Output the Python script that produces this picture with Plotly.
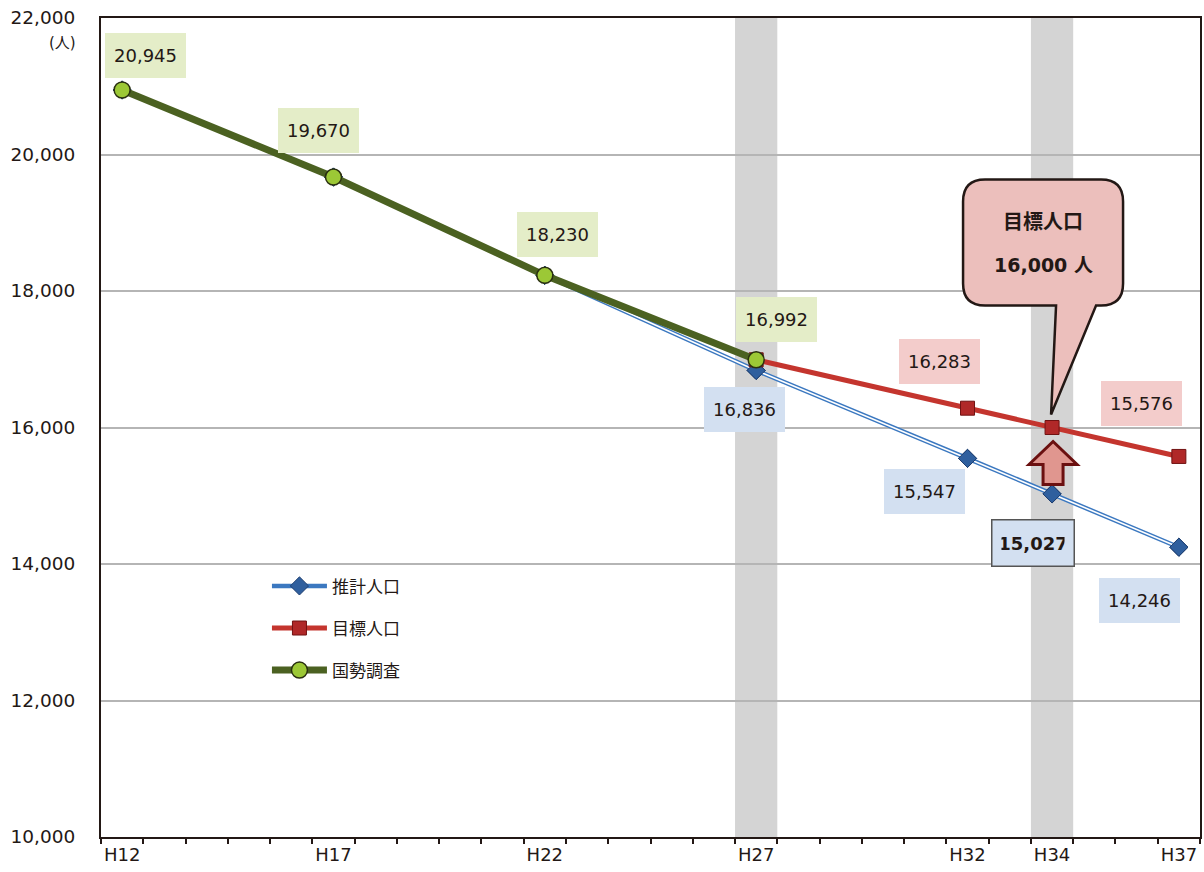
import plotly.graph_objects as go

# ---- data ----
years_est = [12, 17, 22, 27, 32, 34, 37]
pop_est = [20945, 19670, 18230, 16836, 15547, 15027, 14246]
years_goal = [27, 32, 34, 37]
pop_goal = [16992, 16283, 16000, 15576]
years_census = [12, 17, 22, 27]
pop_census = [20945, 19670, 18230, 16992]
tick_years = [12, 17, 22, 27, 32, 34, 37]
tick_labels = ["H12", "H17", "H22", "H27", "H32", "H34", "H37"]
names = ["推計人口", "目標人口", "国勢調査"]

FONT = "DejaVu Sans, Noto Sans CJK JP, sans-serif"
TXT = "#231815"

fig = go.Figure()

# estimate (double line)
fig.add_trace(go.Scatter(x=years_est, y=pop_est, mode="lines+markers", name=names[0],
                         line=dict(color="#3b78c0", width=4.5),
                         marker=dict(symbol="diamond", size=14, color="#2f5f9e",
                                     line=dict(color="#1f3f70", width=1)),
                         legendgroup="a"))
fig.add_trace(go.Scatter(x=years_est, y=pop_est, mode="lines", showlegend=False,
                         line=dict(color="white", width=1.6), hoverinfo="skip"))
fig.add_trace(go.Scatter(x=years_est, y=pop_est, mode="markers", showlegend=False,
                         marker=dict(symbol="diamond", size=14, color="#2f5f9e",
                                     line=dict(color="#1f3f70", width=1))))
# goal
fig.add_trace(go.Scatter(x=years_goal, y=pop_goal, mode="lines+markers", name=names[1],
                         line=dict(color="#c4352e", width=5),
                         marker=dict(symbol="square", size=14, color="#b02828",
                                     line=dict(color="#701212", width=1)),
                         legendgroup="b"))
# census
fig.add_trace(go.Scatter(x=years_census, y=pop_census, mode="lines+markers", name=names[2],
                         line=dict(color="#4b6121", width=7),
                         marker=dict(symbol="circle", size=16, color="#9cc836",
                                     line=dict(color="#2a3010", width=1.5)),
                         legendgroup="c"))

shapes = []
for cx in (27, 34):
    shapes.append(dict(type="rect", xref="x", yref="paper", x0=cx - 0.5, x1=cx + 0.5,
                       y0=0, y1=1, fillcolor="#d4d4d4", line=dict(width=0), layer="between"))

# callout balloon anchored to the goal point at H34
r = 22
L, R, T, B = -89, 71, 248, 122
path = (f"M {L+r},{T} L {R-r},{T} Q {R},{T} {R},{T-r} L {R},{B+r} Q {R},{B} {R-r},{B} "
        f"L 44,{B} L -1,13 L 4,{B} L {L+r},{B} Q {L},{B} {L},{B+r} L {L},{T-r} Q {L},{T} {L+r},{T} Z")
shapes.append(dict(type="path", xref="x", yref="y", xsizemode="pixel", ysizemode="pixel",
                   xanchor=years_goal[2], yanchor=pop_goal[2], path=path,
                   fillcolor="#ecbfbc", line=dict(color=TXT, width=2.5), layer="above"))
# up arrow
arrow = "M 1,-14 L 25,-37 L 11,-37 L 11,-57 L -9,-57 L -9,-37 L -23,-37 Z"
shapes.append(dict(type="path", xref="x", yref="y", xsizemode="pixel", ysizemode="pixel",
                   xanchor=years_goal[2], yanchor=pop_goal[2], path=arrow,
                   fillcolor="#e0968f", line=dict(color="#6b1010", width=3), layer="above"))

anns = []
def lab(x, y, dx, dy, bg, bold=False, border=None):
    t = f"{y:,}"
    if bold:
        t = f"<b>{t}</b>"
    anns.append(dict(x=x, y=y, xref="x", yref="y", text=t, showarrow=False,
                     xshift=dx, yshift=dy, bgcolor=bg, borderpad=9, width=63, height=27,
                     bordercolor=border if border else "rgba(0,0,0,0)",
                     borderwidth=1.5 if border else 0,
                     font=dict(family=FONT, size=18, color=TXT)))

G, P, Bl = "#e4edc8", "#f3cccb", "#d3e0f1"
lab(years_census[0], pop_census[0], 23, 35, G)
lab(years_census[1], pop_census[1], -15, 47, G)
lab(years_census[2], pop_census[2], 13, 41, G)
lab(years_census[3], pop_census[3], 20, 40, G)
lab(years_est[3], pop_est[3], -12, -39, Bl)
lab(years_goal[1], pop_goal[1], -28, 47, P)
lab(years_goal[3], pop_goal[3], -37, 53, P)
lab(years_est[4], pop_est[4], -43, -33, Bl)
lab(years_est[5], pop_est[5], -19, -49, Bl, bold=True, border="#555555")
lab(years_est[6], pop_est[6], -39, -53, Bl)

anns.append(dict(x=years_goal[2], y=pop_goal[2], xref="x", yref="y", showarrow=False,
                 xshift=-9, yshift=206, text="<b>目標人口</b>",
                 font=dict(family=FONT, size=20, color=TXT)))
anns.append(dict(x=years_goal[2], y=pop_goal[2], xref="x", yref="y", showarrow=False,
                 xshift=-9, yshift=163, text="<b>16,000 人</b>",
                 font=dict(family=FONT, size=19, color=TXT)))
anns.append(dict(x=-0.035, y=0.9695, xref="paper", yref="paper", showarrow=False,
                 xanchor="center", yanchor="middle",
                 text="(人)", font=dict(family=FONT, size=15, color=TXT)))

fig.update_layout(
    width=1204, height=872,
    margin=dict(l=101, r=2, t=18, b=35),
    plot_bgcolor="white", paper_bgcolor="white",
    font=dict(family=FONT, size=17, color=TXT),
    shapes=shapes, annotations=anns,
    showlegend=True,
    legend=dict(x=0.151, y=0.328, xanchor="left", yanchor="top",
                bgcolor="rgba(0,0,0,0)", itemwidth=55, tracegroupgap=17,
                font=dict(family=FONT, size=17, color=TXT)),
    xaxis=dict(range=[11.5, 37.5], tickmode="array", tickvals=tick_years, ticktext=tick_labels,
               ticks="", showgrid=False, zeroline=False,
               showline=True, linecolor=TXT, linewidth=2, mirror=True,
               tickfont=dict(family=FONT, size=18, color=TXT),
               minor=dict(ticks="outside", tick0=11.5, dtick=1, ticklen=5,
                          tickcolor=TXT, tickwidth=1.5, showgrid=False)),
    yaxis=dict(range=[10000, 22000], tickmode="linear", tick0=10000, dtick=2000,
               tickformat=",d", showgrid=True, gridcolor="#b5b5b5", gridwidth=1.5,
               zeroline=False, showline=True, linecolor=TXT, linewidth=2, mirror=True,
               ticks="", ticklabelstandoff=20,
               tickfont=dict(family=FONT, size=18.5, color=TXT)),
)

fig.write_html("out.html")
